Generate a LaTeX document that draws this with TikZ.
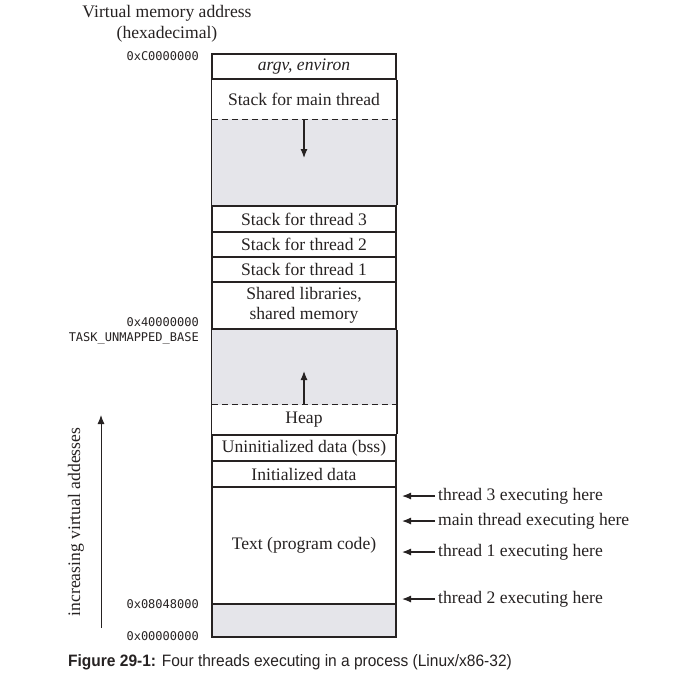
\documentclass[tikz,border=0pt]{standalone}
\usepackage{fontspec}
\usepackage{tikz}
\usetikzlibrary{shapes, arrows.meta, positioning}
\setmainfont{Liberation Serif}
\newfontfamily\addrfont{DejaVu Sans Mono}
\newfontfamily\capfont[FakeStretch=0.94]{Liberation Sans}
\definecolor{ink}{RGB}{38,34,34}
\definecolor{gapgray}{RGB}{229,229,234}
\newcommand{\segfont}{\fontsize{17.6}{20}\selectfont}
\tikzstyle{seg} = [rectangle, minimum width=184pt, inner sep=0pt, align=center, font=\segfont, text=ink]
\tikzstyle{box} = [seg, draw=ink, line width=1.7pt]
\tikzstyle{gap} = [seg, fill=gapgray]
\tikzstyle{line} = [draw=ink, line width=1.3pt]
\tikzstyle{dline} = [draw=ink, line width=1.3pt, dash pattern=on 6pt off 4pt]
\tikzstyle{arrow} = [draw=ink, line width=1.2pt, -{Latex[length=9pt, width=7pt]}]
\tikzstyle{addr} = [anchor=east, inner sep=0pt, font=\addrfont\fontsize{12}{14}\selectfont, text=ink]
\tikzstyle{tlabel} = [anchor=west, inner sep=3pt, font=\segfont, text=ink]

\begin{document}
\begin{tikzpicture}[x=1pt, y=-1pt]
			\useasboundingbox (0,0) rectangle (673,681);
			% empty regions
			\node [gap, minimum height=87pt] (gap1) at (304,162.5) {};
			\node [gap, minimum height=76pt] (gap2) at (304,367) {};
			\node [gap, draw=ink, line width=1.3pt, minimum height=33pt] (low) at (304,620.5) {};
			
			% segments
			\node [box, minimum height=25pt] (argv) at (304,66.5) {\textit{argv, environ}};
			\node [seg, minimum height=40pt] (mainst) at (304,99) {Stack for main thread};
			\node [box, minimum height=26pt] (st3) at (304,219) {Stack for thread 3};
			\node [box, minimum height=25pt] (st2) at (304,244.5) {Stack for thread 2};
			\node [box, minimum height=25pt] (st1) at (304,269.5) {Stack for thread 1};
			\node [box, minimum height=47pt] (shlib) at (304,305.5) {Shared libraries,\\shared memory};
			\node [seg, minimum height=30pt] (heap) at (304,420) {Heap};
			\node [box, minimum height=26pt] (bss) at (304,448) {Uninitialized data (bss)};
			\node [box, minimum height=26pt] (init) at (304,474) {Initialized data};
			\node [seg, draw=ink, line width=1.3pt, minimum height=117pt] (text) at (304,545.5) {Text (program code)};
			
			\path [line] (argv.south west) -- (st3.north west);
			\path [line] (argv.south east) -- (st3.north east);
			\path [line] (shlib.south west) -- (bss.north west);
			\path [line] (shlib.south east) -- (bss.north east);
			\path [dline] (mainst.south west) -- (mainst.south east);
			\path [dline] (heap.north west) -- (heap.north east);
			
			\coordinate (downtip) at (304,158);
			\coordinate (uptip) at (304,371);
			\path [arrow] (mainst.south) -- (downtip);
			\path [arrow] (heap.north) -- (uptip);
			
			% addresses
			\node [align=center, font=\fontsize{17.6}{21}\selectfont, text=ink] (title) at (167,23.5) {Virtual memory address\\(hexadecimal)};
			\node [addr] (a0) at (199,56) {0xC0000000};
			\node [addr] (a1) at (199,322) {0x40000000};
			\node [addr] (tub) at (199,338) {TASK\_UNMAPPED\_BASE};
			\node [addr] (a2) at (199,604) {0x08048000};
			\node [addr] (a3) at (199,636) {0x00000000};
			
			\coordinate (axbot) at (101,628);
			\coordinate (axtop) at (101,415);
			\path [arrow, line width=1pt] (axbot) -- (axtop);
			\node [rotate=90, font=\segfont, text=ink] (axlabel) at (76,522) {increasing virtual addesses};
			
			% threads
			\node [tlabel] (t3) at (435,496) {thread 3 executing here};
			\node [tlabel] (tm) at (435,521) {main thread executing here};
			\node [tlabel] (t1) at (435,552) {thread 1 executing here};
			\node [tlabel] (t2) at (435,599) {thread 2 executing here};
			\coordinate (t3p) at (402,496);
			\coordinate (tmp) at (402,521);
			\coordinate (t1p) at (402,552);
			\coordinate (t2p) at (402,599);
			\path [arrow] (t3.west) -- (t3p);
			\path [arrow] (tm.west) -- (tmp);
			\path [arrow] (t1.west) -- (t1p);
			\path [arrow] (t2.west) -- (t2p);
			
			\node [anchor=west, inner sep=0pt, font=\capfont\fontsize{16.5}{18}\selectfont, text=ink] (caption) at (68,662) {\textbf{Figure 29-1:} Four threads executing in a process (Linux/x86-32)};
		\end{tikzpicture}
\end{document}
